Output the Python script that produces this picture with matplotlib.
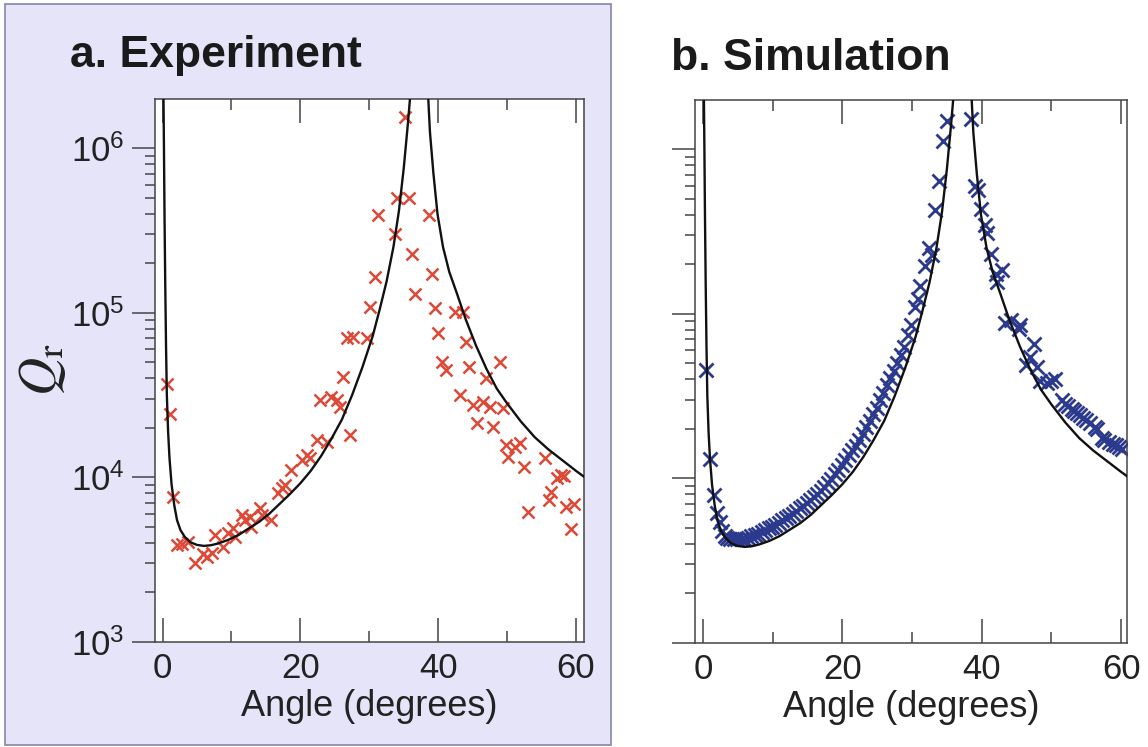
import matplotlib
matplotlib.use('Agg')
import matplotlib.pyplot as plt
import numpy as np
from matplotlib.ticker import LogLocator, NullFormatter, FixedLocator
from matplotlib.patches import Rectangle

plt.rcParams['font.family'] = ['Liberation Sans', 'DejaVu Sans']
plt.rcParams['mathtext.fontset'] = 'custom'
plt.rcParams['mathtext.rm'] = 'Liberation Sans'
plt.rcParams['mathtext.it'] = 'Liberation Sans:italic'
plt.rcParams['mathtext.bf'] = 'Liberation Sans:bold'

# ---------------- data (Q given as log10 values) ----------------
# theory curve, left branch (below the resonance) and right branch (above it)
curve_l_angle = [0.12, 0.2, 0.28, 0.38, 0.5, 0.62, 0.8, 1.0, 1.3, 1.7, 2.1, 2.6, 3.2, 4.0,
                 5.0, 6.0, 7.0, 8.0, 9.5, 11.0, 12.5, 14.0, 15.5, 17.0, 18.5, 20.0, 21.5,
                 23.0, 24.5, 26.0, 27.5, 29.0, 30.5, 31.5, 32.5, 33.5, 34.3, 35.0, 35.6, 36.0]
curve_l_log10Q = [6.35, 6.0, 5.6, 5.2, 4.8, 4.5, 4.28, 4.12, 3.96, 3.83, 3.74, 3.68, 3.64, 3.607,
                  3.59, 3.584, 3.588, 3.598, 3.62, 3.65, 3.69, 3.73, 3.78, 3.84, 3.90, 3.965, 4.04,
                  4.13, 4.235, 4.35, 4.50, 4.67, 4.86, 5.02, 5.19, 5.40, 5.62, 5.88, 6.15, 6.35]
curve_r_angle = [38.5, 38.8, 39.3, 39.9, 40.7, 41.6, 42.7, 44.0, 45.5, 47.0, 48.5, 50.0,
                 52.0, 54.0, 56.0, 58.0, 60.0, 61.3]
curve_r_log10Q = [6.35, 6.1, 5.85, 5.6, 5.40, 5.25, 5.12, 4.96, 4.80, 4.66, 4.54, 4.45,
                  4.34, 4.245, 4.17, 4.105, 4.04, 4.0]

# a. Experiment
exp_angle = [0.59, 1.07, 1.56, 2.05, 2.77, 3.73, 4.70, 5.91, 6.40, 7.12, 7.60, 8.81, 9.54,
             10.26, 10.5, 11.5, 11.96, 12.7, 12.9, 14.1, 14.4, 15.8, 16.8, 17.3, 17.8, 18.7,
             20.2, 20.9, 21.4, 22.4, 23.8, 22.8, 24.5, 25.3, 25.7, 27.2, 26.2, 26.7, 27.7,
             29.6, 30.1, 30.8, 31.3, 33.7, 34.0, 35.7, 35.2, 36.2, 36.6, 38.7, 39.1, 39.5,
             40.0, 40.5, 41.2, 42.4, 43.6, 43.2, 44.1, 44.5, 45.1, 45.6, 46.5, 47.0, 47.5,
             48.0, 49.0, 49.4, 49.9, 50.2, 51.1, 51.9, 52.5, 53.0, 55.5, 56.1, 56.4, 57.2,
             57.8, 58.3, 58.6, 59.7, 59.2]
exp_log10Q = [4.57, 4.386, 3.883, 3.590, 3.596, 3.610, 3.482, 3.535, 3.519, 3.539, 3.650, 3.579,
              3.661, 3.691, 3.64, 3.772, 3.742, 3.762, 3.70, 3.813, 3.772, 3.742, 3.904, 3.934,
              3.954, 4.046, 4.106, 4.137, 4.117, 4.228, 4.218, 4.471, 4.491, 4.471, 4.430, 4.258,
              4.613, 4.846, 4.856, 4.846, 5.038, 5.221, 5.592, 5.478, 5.697, 5.697, 6.193, 5.357,
              5.115, 5.592, 5.235, 5.029, 4.877, 4.704, 4.653, 5.008, 5.008, 4.50, 4.826, 4.67,
              4.441, 4.333, 4.461, 4.603, 4.43, 4.305, 4.704, 4.42, 4.198, 4.126, 4.187, 4.208,
              4.066, 3.792, 4.117, 3.863, 3.914, 3.995, 4.015, 4.009, 3.823, 3.839, 3.685]

# b. Simulation
sim_angle = [0.45, 0.95, 1.6, 2.05, 2.4, 2.75, 3.1, 3.5, 3.9, 4.4, 4.9, 5.4, 5.9, 6.4, 6.9,
             7.4, 7.9, 8.4, 8.9, 9.4, 9.9, 10.4, 10.9, 11.4, 11.9, 12.4, 12.9, 13.4, 13.9,
             14.4, 14.9, 15.4, 15.9, 16.4, 16.9, 17.4, 17.9, 18.4, 18.9, 19.4, 19.9, 20.4,
             20.9, 21.4, 21.9, 22.4, 22.9, 23.4, 23.9, 24.4, 24.9, 25.4, 25.9, 26.4, 26.9,
             27.4, 27.9, 28.4, 28.9, 29.4, 29.8, 30.4, 30.8, 31.2, 31.9, 32.5, 32.8, 33.3,
             33.8, 34.4, 35.0,
             38.5, 39.0, 39.5, 39.9, 40.5, 40.8, 41.3, 42.1, 42.9, 42.15, 43.4, 44.2, 45.3,
             45.5, 47.5, 46.9, 46.4, 47.9, 48.35, 49.3, 49.9, 50.5, 51.5, 52.0, 52.4, 52.9,
             53.3, 53.7, 54.1, 54.6, 55.0, 55.5, 56.2, 56.5, 57.2, 57.6, 58.25, 58.8, 59.3,
             59.7, 60.1]
sim_log10Q = [4.66, 4.12, 3.90, 3.79, 3.735, 3.68, 3.65, 3.64, 3.635, 3.63, 3.63, 3.632, 3.635,
              3.64, 3.648, 3.655, 3.664, 3.675, 3.686, 3.697, 3.708, 3.718, 3.73, 3.745, 3.758,
              3.77, 3.785, 3.80, 3.818, 3.835, 3.85, 3.868, 3.885, 3.905, 3.925, 3.948, 3.97,
              3.995, 4.025, 4.05, 4.08, 4.11, 4.14, 4.17, 4.20, 4.235, 4.27, 4.31, 4.35, 4.39,
              4.43, 4.475, 4.52, 4.565, 4.61, 4.655, 4.70, 4.75, 4.80, 4.87, 4.93, 5.04, 5.09,
              5.17, 5.29, 5.40, 5.36, 5.63, 5.81, 6.05, 6.17,
              6.186, 5.78, 5.75, 5.635, 5.54, 5.49, 5.366, 5.245, 5.265, 5.194, 4.945, 4.965,
              4.911, 4.935, 4.815, 4.738, 4.688, 4.678, 4.59, 4.58, 4.59, 4.607, 4.475, 4.455,
              4.44, 4.425, 4.41, 4.40, 4.385, 4.37, 4.354, 4.34, 4.313, 4.30, 4.243, 4.235,
              4.222, 4.21, 4.202, 4.19, 4.182]

x_major = [0, 20, 40, 60]
x_minor = [10, 30, 50]
titles = ['a. Experiment', 'b. Simulation']
xlabel = 'Angle (degrees)'

RED = '#dc4a37'
BLUE = '#2c3a8e'
INK = '#222222'
AX = '#444444'

W, H = 1148, 747
fig = plt.figure(figsize=(W / 100, H / 100), dpi=100)
fig.patch.set_facecolor('white')

bg = Rectangle((5 / W, 2 / H), 606 / W, 741 / H, transform=fig.transFigure,
               facecolor='#e5e4f8', edgecolor='#8585a5', lw=1.2, zorder=-10)
fig.add_artist(bg)

axA = fig.add_axes([155 / W, (H - 642) / H, 428.6 / W, 543 / H])
axB = fig.add_axes([695 / W, (H - 643) / H, 432 / W, 543 / H])


def style(ax, xlim, show_ylabels):
    ax.set_facecolor('white')
    ax.set_yscale('log')
    ax.set_xlim(*xlim)
    ax.set_ylim(1e3, 10 ** 6.30)
    ax.xaxis.set_major_locator(FixedLocator(x_major))
    ax.xaxis.set_minor_locator(FixedLocator(x_minor))
    ax.yaxis.set_major_locator(LogLocator(base=10, numticks=10))
    ax.yaxis.set_minor_locator(LogLocator(base=10, subs=np.arange(2, 10), numticks=60))
    ax.yaxis.set_minor_formatter(NullFormatter())
    ax.tick_params(axis='x', which='both', direction='in', top=True, bottom=True,
                   width=1.1, color=AX, labelsize=25, pad=7, labelcolor=INK)
    ax.tick_params(axis='x', which='major', length=17.5)
    ax.tick_params(axis='x', which='minor', length=8)
    ax.tick_params(axis='y', which='both', direction='out', left=True, right=False,
                   width=1.1, color=AX, labelsize=25, pad=5.5, labelcolor=INK,
                   labelleft=show_ylabels)
    ax.tick_params(axis='y', which='major', length=16.5)
    ax.tick_params(axis='y', which='minor', length=7)
    for s in ax.spines.values():
        s.set_linewidth(1.1)
        s.set_color(AX)
    ax.set_xlabel(xlabel, fontsize=26, color=INK, labelpad=3)


style(axA, (-1.1, 61.1), True)
style(axB, (-1.15, 60.85), False)

for ax in (axA, axB):
    ax.plot(curve_l_angle, 10 ** np.array(curve_l_log10Q), color='#111111', lw=1.7, zorder=3)
    ax.plot(curve_r_angle, 10 ** np.array(curve_r_log10Q), color='#111111', lw=1.7, zorder=3)

axA.plot(exp_angle, 10 ** np.array(exp_log10Q), ls='none', marker='x', ms=8.8, mew=1.8,
         color=RED, zorder=2)
axB.plot(sim_angle, 10 ** np.array(sim_log10Q), ls='none', marker='x', ms=9.8, mew=2.0,
         color=BLUE, zorder=2)

fig.text(70 / W, 1 - 67 / H, titles[0], fontsize=32, fontweight='bold', ha='left',
         va='baseline', color='#1a1a1a')
fig.text(671 / W, 1 - 70 / H, titles[1], fontsize=32, fontweight='bold', ha='left',
         va='baseline', color='#1a1a1a')
fig.text(42 / W, 1 - 370 / H, r'$Q_{\mathrm{r}}$', rotation=90, ha='center', va='center',
         fontsize=38, math_fontfamily='stix', color=INK)

fig.savefig('out.png', dpi=100, facecolor=fig.get_facecolor())
